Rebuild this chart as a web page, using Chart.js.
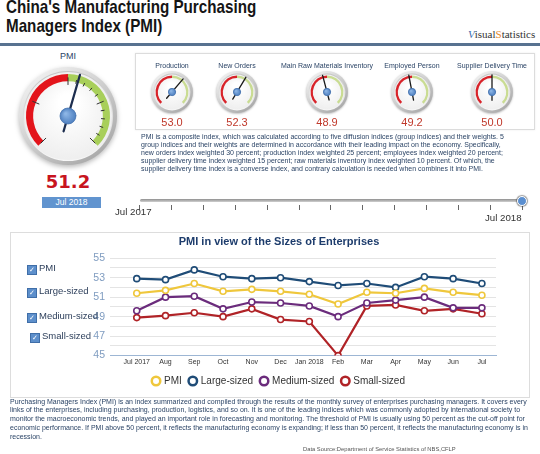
<!DOCTYPE html>
<html>
<head>
<meta charset="utf-8">
<title>China's Manufacturing PMI</title>
<script src="https://cdn.jsdelivr.net/npm/chart.js@4.4.1/dist/chart.umd.min.js"></script>
<style>
  html, body { margin: 0; padding: 0; background: #fff; }
  body { width: 540px; height: 454px; position: relative; overflow: hidden;
         font-family: "Liberation Sans", Arial, sans-serif; color: #2b4466; }
  .abs { position: absolute; white-space: nowrap; }
  #title { left: 6px; top: -3px; font-size: 19px; line-height: 19px; font-weight: bold; color: #151515;
           transform: scaleX(0.8); transform-origin: 0 0; }
  #brand { left: 468px; top: 28px; font-family: "Liberation Serif", serif; font-size: 11px; color: #333; }
  #brand .v { color: #3b6fb0; font-style: italic; }
  #brand .s { color: #e8892b; }
  #rule { left: 0; top: 43px; width: 540px; height: 3px; background: #587290; }
  #pmiLabel { left: 38px; width: 60px; top: 51px; text-align: center; font-size: 9px; line-height: 11px; }
  #pmiValue { left: 18px; width: 100px; top: 172px; text-align: center; font-family: "DejaVu Sans", sans-serif;
              font-weight: bold; font-size: 18px; line-height: 20px; color: #c8141e; }
  #pmiMonth { left: 42px; top: 197px; width: 59px; height: 11px; background: #6194cf; color: #fff;
              font-size: 8.5px; line-height: 11px; text-align: center; }
  #panel { left: 135px; top: 53px; width: 400px; height: 77px; border: 1px solid #dcdcdc;
           box-shadow: 0 0 2px rgba(0,0,0,0.08); box-sizing: border-box; }
  .subName { width: 120px; text-align: center; font-size: 7px; line-height: 9px; top: 61px; }
  .subVal { width: 60px; text-align: center; font-size: 11px; line-height: 12px; top: 116px; color: #c0392b; }
  #about { left: 141px; top: 133px; font-size: 7px; line-height: 8px; }
  #track { left: 140px; top: 199px; width: 382px; height: 3px; border-radius: 2px;
           background: linear-gradient(#8f8f8f, #d0d0d0); }
  .tick { top: 205px; width: 1px; height: 5px; background: #666; }
  #knob { left: 517px; top: 195.5px; width: 8px; height: 8px; border-radius: 50%; background: #5b8fd0;
          border: 1px solid #fff; box-shadow: 0 0 1px 1px rgba(60,60,60,0.5); }
  .sl { font-size: 9.7px; line-height: 12px; color: #333; }
  #chartBox { left: 10px; top: 232px; width: 520px; height: 166px; border: 1px solid #dddddd; box-sizing: border-box; }
  #lineChart { position: absolute; left: 62px; top: 232px; }
  .chk { font-size: 9.5px; line-height: 11px; color: #2c3e5a; z-index: 2; }
  .chk .box { display: inline-block; width: 8px; height: 8px; margin-right: 2px; vertical-align: -1px;
              background: #5d8fcb; border: 1px solid #3f6ea8; color: #fff; font-size: 7px; line-height: 8px;
              text-align: center; font-family: "DejaVu Sans", sans-serif; }
  #notes { left: 10px; top: 397.6px; font-size: 7px; line-height: 8.75px; }
  #source { left: 303px; top: 445px; font-size: 5.8px; line-height: 8px; color: #555; }
  canvas.gauge { position: absolute; }
</style>
</head>
<body>
<div id="title" class="abs">China's Manufacturing Purchasing<br>Managers Index (PMI)</div>
<div id="brand" class="abs"><span class="v">V</span>isual<span class="s">S</span>tatistics</div>
<div id="rule" class="abs"></div>

<div id="pmiLabel" class="abs">PMI</div>
<canvas id="pmiGauge" class="gauge" width="110" height="110" style="left:13px; top:61px"></canvas>
<div id="pmiValue" class="abs"></div>
<div id="pmiMonth" class="abs"></div>

<div id="panel" class="abs"></div>
<div id="subGauges"></div>

<div id="about" class="abs">PMI is a composite index, which was calculated according to five diffusion indices (group indices) and their weights. 5<br>group indices and their weights are determined in accordance with their leading impact on the economy. Specifically,<br>new orders index weighted 30 percent; production index weighted 25 percent; employees index weighted 20 percent;<br>supplier delivery time index weighted 15 percent; raw materials inventory index weighted 10 percent. Of which, the<br>supplier delivery time index is a converse index, and contrary calculation is needed when combines it into PMI.</div>

<div id="track" class="abs"></div>
<div id="ticks"></div>
<div id="knob" class="abs"></div>
<div class="abs sl" style="left:115px; top:206px">Jul 2017</div>
<div class="abs sl" style="left:485px; top:212px">Jul 2018</div>

<div id="chartBox" class="abs"></div>
<canvas id="lineChart" width="468" height="166"></canvas>
<div id="checks"></div>

<div id="notes" class="abs">Purchasing Managers Index (PMI) is an index summarized and compiled through the results of the monthly survey of enterprises purchasing managers. It covers every<br>links of the enterprises, including purchasing, production, logistics, and so on. It is one of the leading indices which was commonly adopted by international society to<br>monitor the macroeconomic trends, and played an important role in forecasting and monitoring. The threshold of PMI is usually using 50 percent as the cut-off point for<br>economic performance. If PMI above 50 percent, it reflects the manufacturing economy is expanding; if less than 50 percent, it reflects the manufacturing economy is in<br>recession.</div>
<div id="source" class="abs">Data Source:Department of Service Statistics of NBS,CFLP</div>

<script>
// data
const months = ["Jul 2017", "Aug", "Sep", "Oct", "Nov", "Dec", "Jan 2018", "Feb", "Mar", "Apr", "May", "Jun", "Jul"];
const pmi = [51.4, 51.7, 52.4, 51.6, 51.8, 51.6, 51.3, 50.3, 51.5, 51.4, 51.9, 51.5, 51.2];
const largeSized = [52.9, 52.8, 53.8, 53.1, 52.9, 53.0, 52.6, 52.2, 52.4, 52.0, 53.1, 52.9, 52.4];
const mediumSized = [49.6, 51.0, 51.1, 49.8, 50.5, 50.4, 50.1, 49.0, 50.4, 50.7, 51.0, 49.9, 49.9];
const smallSized = [48.9, 49.1, 49.4, 49.0, 49.8, 48.7, 48.5, 45.0, 50.1, 50.2, 49.6, 49.8, 49.3];
const seriesNames = ["PMI", "Large-sized", "Medium-sized", "Small-sized"];
const yLabels = [45, 47, 49, 51, 53, 55];

const gaugeMin = 40;
const gaugeSplit = 50;
const gaugeMax = 60;
const pmiValue = 51.2;
const pmiMonth = "Jul 2018";
const subNames = ["Production", "New Orders", "Main Raw Materials Inventory", "Employed Person", "Supplier Delivery Time"];
const subValues = [53.0, 52.3, 48.9, 49.2, 50.0];

// layout + styles
const seriesColors = ["#efc73c", "#1f4c77", "#6b2c7c", "#b02327"];
const subCentersX = [172, 237, 327, 412, 492];
const checkTops = [262, 285, 310, 330];
const checkLefts = [27, 27, 27, 30];

Chart.defaults.font.family = '"Liberation Sans", Arial, sans-serif';

document.getElementById("pmiValue").textContent = pmiValue.toFixed(1);
document.getElementById("pmiMonth").textContent = pmiMonth;

// gauge face, ticks and needle around the doughnut arcs
const gaugePlugin = {
    id: "gauge",
    beforeDatasetsDraw(chart, args, o) {
        const arc = chart.getDatasetMeta(0).data[0];
        const x = arc.x, y = arc.y, R = arc.outerRadius * o.bezel;
        const ctx = chart.ctx;
        ctx.save();
        ctx.shadowColor = "rgba(0,0,0,0.28)";
        ctx.shadowBlur = R * 0.1;
        ctx.shadowOffsetY = R * 0.04;
        let g = ctx.createLinearGradient(x - R, y - R, x + R * 0.6, y + R);
        g.addColorStop(0, "#fbfbfb");
        g.addColorStop(1, "#a6a6a6");
        ctx.fillStyle = g;
        ctx.beginPath(); ctx.arc(x, y, R, 0, Math.PI * 2); ctx.fill();
        ctx.shadowColor = "transparent";
        const ri = R * (1 - o.ring);
        g = ctx.createLinearGradient(0, y - ri, 0, y + ri);
        g.addColorStop(0, "#c4c4c4");
        g.addColorStop(1, "#f7f7f7");
        ctx.fillStyle = g;
        ctx.beginPath(); ctx.arc(x, y, ri, 0, Math.PI * 2); ctx.fill();
        g = ctx.createRadialGradient(x, y - ri * 0.3, ri * 0.2, x, y, ri);
        g.addColorStop(0, "#ffffff");
        g.addColorStop(1, "#eeeeee");
        ctx.fillStyle = g;
        ctx.beginPath(); ctx.arc(x, y, ri - 1, 0, Math.PI * 2); ctx.fill();
        ctx.restore();
    },
    afterDatasetsDraw(chart, args, o) {
        const meta = chart.getDatasetMeta(0);
        const first = meta.data[0], last = meta.data[meta.data.length - 1];
        const x = first.x, y = first.y, r = first.outerRadius;
        const angleOf = v => first.startAngle + (v - gaugeMin) / (gaugeMax - gaugeMin) * (last.endAngle - first.startAngle);
        const ctx = chart.ctx;
        ctx.save();
        if (o.ticks) {
            ctx.strokeStyle = "#333";
            ctx.lineWidth = 1;
            for (let v = gaugeMin; v <= gaugeMax; v++) {
                const major = (v - gaugeMin) % 5 === 0;
                if (!major && v < gaugeSplit) continue;
                const a = angleOf(v);
                const r0 = r * (major ? 0.74 : 0.79), r1 = r * (major ? 0.92 : 0.88);
                ctx.beginPath();
                ctx.moveTo(x + Math.cos(a) * r0, y + Math.sin(a) * r0);
                ctx.lineTo(x + Math.cos(a) * r1, y + Math.sin(a) * r1);
                ctx.stroke();
            }
        }
        const a = angleOf(o.value);
        ctx.strokeStyle = o.needle;
        ctx.lineWidth = o.needleWidth;
        ctx.lineCap = "round";
        ctx.beginPath();
        ctx.moveTo(x - Math.cos(a) * r * o.tail, y - Math.sin(a) * r * o.tail);
        ctx.lineTo(x + Math.cos(a) * r * o.tip, y + Math.sin(a) * r * o.tip);
        ctx.stroke();
        const hr = r * o.hub;
        const g = ctx.createRadialGradient(x - hr * 0.3, y - hr * 0.3, hr * 0.1, x, y, hr);
        g.addColorStop(0, "#8db6e6");
        g.addColorStop(1, "#4f80c0");
        ctx.fillStyle = g;
        ctx.strokeStyle = "#4674ae";
        ctx.lineWidth = 0.8;
        ctx.beginPath(); ctx.arc(x, y, hr, 0, Math.PI * 2); ctx.fill(); ctx.stroke();
        ctx.restore();
    }
};

function makeGauge(canvas, value, o) {
    const W = canvas.width, r = o.radius;
    const side = (W - 2 * r) / 2;
    const shift = 0.1464 * r;   // 270° arc sits lower than the box centre
    return new Chart(canvas, {
        type: "doughnut",
        data: {
            datasets: [{
                data: [gaugeSplit - gaugeMin, gaugeMax - gaugeSplit],
                backgroundColor: o.bands,
                borderWidth: 0
            }]
        },
        options: {
            responsive: false,
            animation: false,
            events: [],
            rotation: -135,
            circumference: 270,
            cutout: o.cutout,
            layout: { padding: { left: side, right: side, top: side - shift, bottom: side + shift } },
            plugins: {
                legend: { display: false },
                tooltip: { enabled: false },
                gauge: Object.assign({ value: value }, o)
            }
        },
        plugins: [gaugePlugin]
    });
}

makeGauge(document.getElementById("pmiGauge"), pmiValue, {
    radius: 42, cutout: "83%", bands: ["#e3141b", "#a8cf5a"], bezel: 1.167, ring: 0.08,
    ticks: true, needle: "#1c2d4e", needleWidth: 2.2, tip: 1.02, tail: 0.38, hub: 0.19
});

const subBox = document.getElementById("subGauges");
subNames.forEach((name, i) => {
    const cx = subCentersX[i];
    const label = document.createElement("div");
    label.className = "abs subName";
    label.style.left = (cx - 60) + "px";
    label.textContent = name;
    subBox.appendChild(label);

    const c = document.createElement("canvas");
    c.className = "gauge";
    c.width = 52; c.height = 52;
    c.style.left = (cx - 26) + "px";
    c.style.top = "66px";
    subBox.appendChild(c);
    makeGauge(c, subValues[i], {
        radius: 16.5, cutout: "85%", bands: ["#d8232a", "#c9dc92"], bezel: 1.27, ring: 0.12,
        ticks: false, needle: "#1a1a1a", needleWidth: 1.3, tip: 1.04, tail: 0.5, hub: 0.22
    });

    const val = document.createElement("div");
    val.className = "abs subVal";
    val.style.left = (cx - 30) + "px";
    val.textContent = subValues[i].toFixed(1);
    subBox.appendChild(val);
});

// slider ticks, one per month
const tickBox = document.getElementById("ticks");
months.forEach((m, i) => {
    const t = document.createElement("div");
    t.className = "abs tick";
    t.style.left = (139 + i * 31.9) + "px";
    tickBox.appendChild(t);
});

// checkbox legend on the left
const checkBox = document.getElementById("checks");
seriesNames.forEach((name, i) => {
    const d = document.createElement("div");
    d.className = "abs chk";
    d.style.left = checkLefts[i] + "px";
    d.style.top = checkTops[i] + "px";
    d.innerHTML = '<span class="box">\u2713</span>' + name;
    checkBox.appendChild(d);
});

// line chart
const seriesData = [pmi, largeSized, mediumSized, smallSized];
new Chart(document.getElementById("lineChart"), {
    type: "line",
    data: {
        datasets: seriesNames.map((name, k) => ({
            label: name,
            data: seriesData[k].map((v, i) => ({ x: i, y: v })),
            borderColor: seriesColors[k],
            backgroundColor: "#fff",
            pointBackgroundColor: "#fff",
            pointBorderColor: seriesColors[k],
            pointBorderWidth: 1.6,
            pointRadius: 3,
            borderWidth: 2.2,
            tension: 0
        }))
    },
    options: {
        responsive: false,
        animation: false,
        events: [],
        layout: { padding: { right: 34, bottom: 2 } },
        scales: {
            x: {
                type: "linear",
                min: -0.93,
                max: 12.49,
                afterBuildTicks: s => { s.ticks = months.map((m, i) => ({ value: i })); },
                ticks: { autoSkip: false, maxRotation: 0, callback: v => months[v], color: "#333", font: { size: 7 }, padding: 2 },
                grid: { display: false, drawTicks: false, tickLength: 0 },
                border: { display: true, color: "#9db6d4", width: 1 }
            },
            y: {
                min: 45,
                max: 55,
                ticks: { stepSize: 1, autoSkip: false, callback: v => yLabels.includes(v) ? v : "", color: "#7f9cc0", font: { size: 10.5 }, padding: 5 },
                grid: { color: c => (c.tick && c.tick.value === 45) ? "rgba(0,0,0,0)" : "#e4e4e4", drawTicks: false, tickLength: 0 },
                border: { display: false },
                afterFit: s => { s.width = 48; }
            }
        },
        plugins: {
            title: {
                display: true,
                text: "PMI in view of the Sizes of Enterprises",
                color: "#1d3c6c",
                font: { size: 11, weight: "bold" },
                padding: { top: 3, bottom: 10 }
            },
            legend: {
                position: "bottom",
                labels: {
                    usePointStyle: true,
                    pointStyle: "circle",
                    boxWidth: 6,
                    boxHeight: 6,
                    padding: 8,
                    color: "#333",
                    font: { size: 10 },
                    generateLabels(chart) {
                        return Chart.defaults.plugins.legend.labels.generateLabels(chart)
                            .map(l => Object.assign(l, { lineWidth: 2.5, fillStyle: "#fff" }));
                    }
                }
            },
            tooltip: { enabled: false }
        }
    }
});
</script>
</body>
</html>
